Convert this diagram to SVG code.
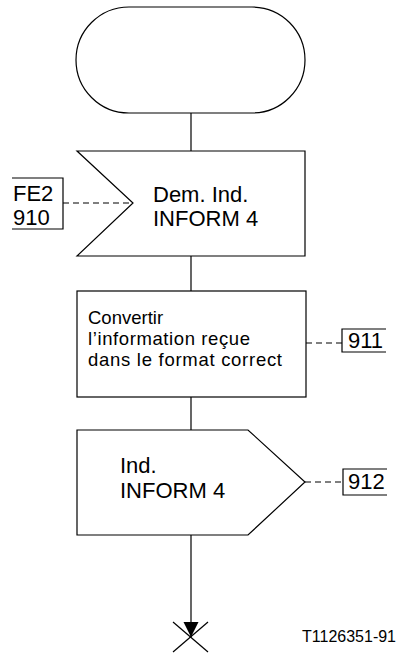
<svg xmlns="http://www.w3.org/2000/svg" width="400" height="655" viewBox="0 0 400 655">
<defs>
<style>
.s{fill:#fff;stroke:#000;stroke-width:1.2}
.l{fill:none;stroke:#000;stroke-width:1.2}
.d{fill:none;stroke:#000;stroke-width:1.2;stroke-dasharray:6,4}
.t{font-family:"Liberation Sans",Arial,sans-serif;fill:#000}
.big{font-size:22px}
.mid{font-size:18.5px}
.sm{font-size:16px}
</style>
<marker id="ah" markerWidth="16" markerHeight="16" refX="15" refY="7.5" orient="auto" markerUnits="userSpaceOnUse">
<path d="M0,0 L15,7.5 L0,15 Z" fill="#000"/>
</marker>
</defs>
<rect width="400" height="655" fill="#fff"/>
<g id="connectors">
<line class="l" x1="191" y1="113" x2="191" y2="151"/>
<line class="l" x1="191" y1="256" x2="191" y2="291"/>
<line class="l" x1="191" y1="397" x2="191" y2="430"/>
<line class="l" x1="191" y1="535" x2="191" y2="637" marker-end="url(#ah)"/>
<line class="d" x1="63" y1="203" x2="133" y2="203"/>
<line class="d" x1="306" y1="343" x2="342" y2="343"/>
<line class="d" x1="305" y1="482" x2="343" y2="482"/>
</g>
<g id="start">
<rect class="s" x="76" y="7" width="229" height="106" rx="53" ry="53"/>
</g>
<g id="input">
<path class="s" d="M77,151 L305,151 L305,256 L77,256 L133,203 Z"/>
<text class="t big" x="153" y="202">Dem. Ind.</text>
<text class="t big" x="153" y="226">INFORM 4</text>
</g>
<g id="ref910">
<path class="l" d="M12,178 L63,178 L63,229 L12,229"/>
<text class="t big" x="13" y="201">FE2</text>
<text class="t big" x="13" y="225">910</text>
</g>
<g id="task">
<rect class="s" x="77" y="291" width="229" height="106"/>
<text class="t mid" x="88" y="324">Convertir</text>
<text class="t mid" x="88" y="345" textLength="162" lengthAdjust="spacing">l’information reçue</text>
<text class="t mid" x="88" y="366" textLength="194" lengthAdjust="spacing">dans le format correct</text>
</g>
<g id="ref911">
<path class="l" d="M386,329 L342,329 L342,352 L386,352"/>
<text class="t big" x="348" y="348">911</text>
</g>
<g id="output">
<path class="s" d="M77,430 L248,430 L305,482 L248,535 L77,535 Z"/>
<text class="t big" x="120" y="473">Ind.</text>
<text class="t big" x="120" y="498">INFORM 4</text>
</g>
<g id="ref912">
<path class="l" d="M387,469 L343,469 L343,495 L387,495"/>
<text class="t big" x="348" y="489">912</text>
</g>
<g id="stop">
<line class="l" x1="173" y1="622" x2="208" y2="652"/>
<line class="l" x1="208" y1="622" x2="173" y2="652"/>
</g>
<text class="t sm" x="302" y="642">T1126351-91</text>
</svg>
